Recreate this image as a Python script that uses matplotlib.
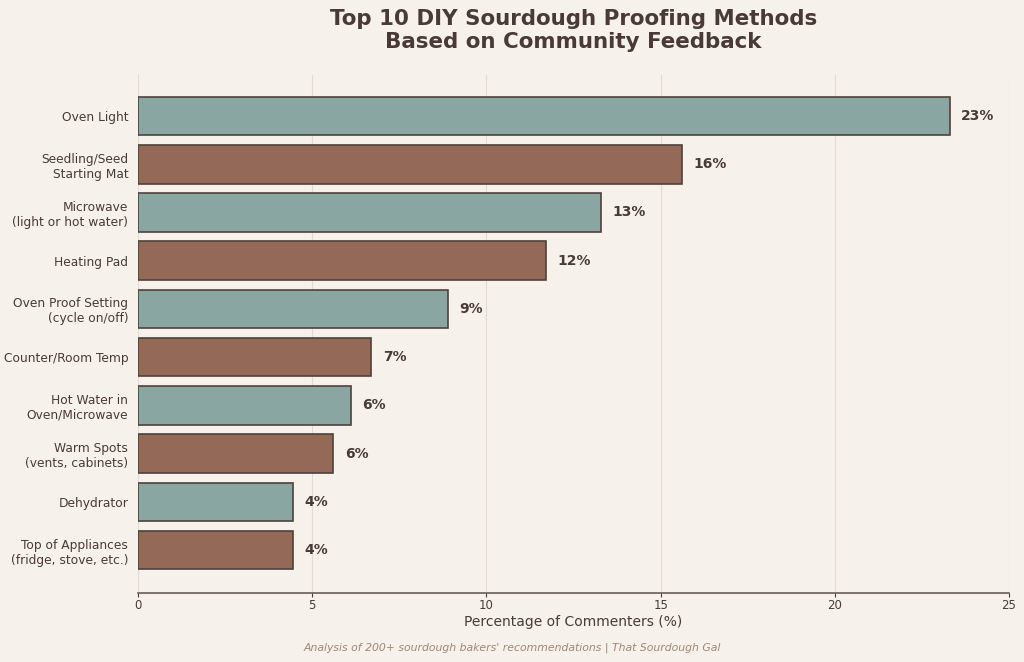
import matplotlib.pyplot as plt
import numpy as np

# Data
methods = [
    "Oven Light",
    "Seedling/Seed\nStarting Mat",
    "Microwave\n(light or hot water)",
    "Heating Pad",
    "Oven Proof Setting\n(cycle on/off)",
    "Counter/Room Temp",
    "Hot Water in\nOven/Microwave",
    "Warm Spots\n(vents, cabinets)",
    "Dehydrator",
    "Top of Appliances\n(fridge, stove, etc.)",
]
percents = [23.3, 15.6, 13.3, 11.7, 8.9, 6.7, 6.1, 5.6, 4.45, 4.45]
labels = ["23%", "16%", "13%", "12%", "9%", "7%", "6%", "6%", "4%", "4%"]

bg = "#f7f1eb"
text_col = "#4a3a35"
teal = "#8aa6a2"
brown = "#946957"
colors = [teal if i % 2 == 0 else brown for i in range(len(methods))]

fig = plt.figure(figsize=(10.24, 6.62), dpi=100, facecolor=bg)
ax = fig.add_axes([0.1348, 0.1042, 0.8506, 0.7825], facecolor=bg)

y = np.arange(len(methods))
ax.barh(y, percents, height=0.8, color=colors, edgecolor="#4f413b", linewidth=1.2, zorder=3)

# value labels
for yi, v, lab in zip(y, percents, labels):
    ax.text(v + 0.33, yi, lab, va="center", ha="left", fontsize=10,
            fontweight="bold", color=text_col)

ax.set_yticks(y)
ax.set_yticklabels(methods, fontsize=8.8, color=text_col)
ax.set_ylim(9.89, -0.85)
ax.set_xlim(0, 25)
ax.set_xticks([0, 5, 10, 15, 20, 25])
ax.tick_params(axis="x", labelsize=8.5, colors=text_col, length=3, pad=1.5)
ax.tick_params(axis="y", length=0, pad=7)
ax.set_xlabel("Percentage of Commenters (%)", fontsize=10, color=text_col, labelpad=2)

ax.grid(axis="x", color="#e3dbd3", linewidth=0.8, zorder=0)
for s in ["top", "right", "left"]:
    ax.spines[s].set_visible(False)
ax.spines["bottom"].set_color("#6b5d57")
ax.spines["bottom"].set_linewidth(1.2)

ax.set_title("Top 10 DIY Sourdough Proofing Methods\nBased on Community Feedback",
             fontsize=15.4, fontweight="bold", color=text_col, pad=19.5)

fig.text(0.5, 0.017, "Analysis of 200+ sourdough bakers' recommendations | That Sourdough Gal",
         ha="center", fontsize=7.8, style="italic", color="#a08676")

fig.savefig("out.png", dpi=100, facecolor=bg)
